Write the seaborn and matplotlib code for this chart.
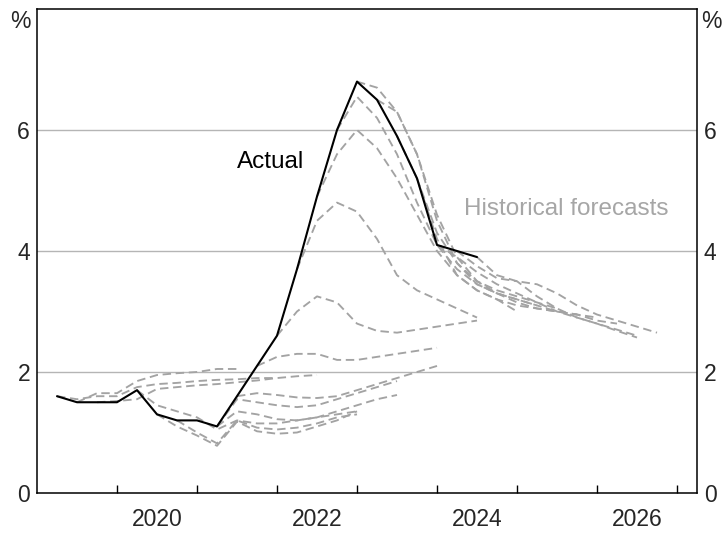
import numpy as np
import pandas as pd
import matplotlib
matplotlib.use("Agg")
import matplotlib.pyplot as plt
from matplotlib import font_manager
import seaborn as sns

# ---------------- data ----------------
actual_start = 2019.25
actual_values = [1.6, 1.5, 1.5, 1.5, 1.7, 1.3, 1.2, 1.2, 1.1, 1.6, 2.1, 2.6,
                 3.7, 4.9, 6.0, 6.8, 6.5, 5.9, 5.2, 4.1, 4.0, 3.9]

# historical forecasts: (start quarter, values)
fc_A1 = (2019.50, [1.5, 1.65, 1.65, 1.85, 1.95, 1.98, 2.0, 2.05, 2.05])
fc_A2 = (2019.25, [1.6, 1.55, 1.6, 1.6, 1.75, 1.8, 1.82, 1.85, 1.87, 1.88, 1.9, 1.9])
fc_A3 = (2019.75, [1.5, 1.52, 1.55, 1.72, 1.75, 1.78, 1.8, 1.83, 1.86, 1.9, 1.93, 1.95])
fc_B0 = (2020.25, [1.7, 1.45, 1.35, 1.25, 1.05, 1.2, 1.15, 1.15, 1.2, 1.25, 1.3, 1.35])
fc_S1 = (2020.50, [1.3, 1.1, 0.95, 0.78, 1.18, 1.02, 0.98, 1.0, 1.1, 1.2, 1.35])
fc_S2 = (2020.75, [1.2, 1.0, 0.82, 1.2, 1.08, 1.05, 1.08, 1.15, 1.25, 1.3])
fc_R = (2021.25, [1.1, 1.35, 1.3, 1.22, 1.2, 1.25, 1.35, 1.45, 1.55, 1.62])
fc_Q = (2021.25, [1.1, 1.55, 1.5, 1.45, 1.42, 1.45, 1.55, 1.65, 1.75, 1.85])
fc_P = (2021.50, [1.6, 1.65, 1.62, 1.58, 1.57, 1.6, 1.7, 1.8, 1.9, 2.0, 2.1])
fc_C1 = (2021.75, [2.1, 2.25, 2.3, 2.3, 2.2, 2.2, 2.25, 2.3, 2.35, 2.4])
fc_C2 = (2022.00, [2.6, 3.0, 3.25, 3.15, 2.8, 2.68, 2.65, 2.7, 2.75, 2.8, 2.85])
fc_C3 = (2022.25, [3.7, 4.5, 4.8, 4.65, 4.2, 3.6, 3.35, 3.2, 3.05, 2.9])
fc_C4 = (2022.50, [4.9, 5.6, 6.0, 5.7, 5.2, 4.6, 4.0, 3.6, 3.35, 3.2, 3.0])
fc_C5 = (2022.75, [6.0, 6.55, 6.2, 5.6, 4.8, 4.1, 3.7, 3.45, 3.3, 3.2, 3.1])
fc_C6 = (2023.00, [6.8, 6.7, 6.3, 5.6, 4.6, 3.9, 3.5, 3.35, 3.25, 3.15, 3.05])
fc_C7 = (2023.25, [6.5, 6.3, 5.6, 4.5, 3.8, 3.45, 3.3, 3.2, 3.1, 3.0, 2.95])
fc_D1 = (2023.50, [5.9, 5.2, 4.2, 3.6, 3.35, 3.2, 3.1, 3.05, 3.0, 2.95, 2.9])
fc_D2 = (2023.75, [5.2, 4.3, 3.8, 3.5, 3.3, 3.15, 3.05, 3.0, 2.95, 2.85, 2.8])
fc_D3 = (2024.00, [4.1, 3.9, 3.65, 3.45, 3.3, 3.15, 3.0, 2.9, 2.8, 2.7, 2.6])
fc_D4 = (2024.25, [4.0, 3.75, 3.55, 3.5, 3.25, 3.05, 2.9, 2.8, 2.68, 2.57])
fc_D5 = (2024.50, [3.9, 3.6, 3.5, 3.45, 3.3, 3.1, 2.95, 2.85, 2.75, 2.65])

forecasts = {"A1": fc_A1, "A2": fc_A2, "A3": fc_A3, "B0": fc_B0, "S1": fc_S1,
             "S2": fc_S2, "R": fc_R, "Q": fc_Q, "P": fc_P, "C1": fc_C1,
             "C2": fc_C2, "C3": fc_C3, "C4": fc_C4, "C5": fc_C5, "C6": fc_C6,
             "C7": fc_C7, "D1": fc_D1, "D2": fc_D2, "D3": fc_D3, "D4": fc_D4,
             "D5": fc_D5}

year_labels = ["2020", "2022", "2024", "2026"]
y_ticks = [0, 2, 4, 6]

# ---------------- tables ----------------
act_df = pd.DataFrame({
    "t": actual_start + 0.25 * np.arange(len(actual_values)),
    "v": actual_values,
})
rows = []
for name, (start, vals) in forecasts.items():
    for i, v in enumerate(vals):
        rows.append({"vintage": name, "t": start + 0.25 * i, "v": v})
fc_df = pd.DataFrame(rows)

# ---------------- plot ----------------
sns.set_theme(style="white")
plt.rcParams["font.family"] = ["Liberation Sans", "DejaVu Sans"]

installed = {f.name for f in font_manager.fontManager.ttflist}
narrow = "Liberation Sans Narrow" if "Liberation Sans Narrow" in installed else "Liberation Sans"
tick_font = font_manager.FontProperties(family=[narrow, "DejaVu Sans"], size=16.5)

fig = plt.figure(figsize=(7.23, 5.36), dpi=100)
ax = fig.add_axes([37 / 723, 1 - 493 / 536, 660 / 723, 484 / 536])

for g in [2, 4, 6]:
    ax.axhline(g, color="#b5b5b5", lw=1.0, zorder=0)

grey = "#a3a3a3"
sns.lineplot(data=fc_df, x="t", y="v", units="vintage", estimator=None,
             color=grey, linestyle=(0, (4.5, 2.5)), lw=1.35, ax=ax,
             legend=False, sort=False)
sns.lineplot(data=act_df, x="t", y="v", color="black", lw=1.5, ax=ax,
             legend=False, sort=False)

ax.set_xlim(2019.0, 2027.25)
ax.set_ylim(0, 8)
ax.set_xlabel("")
ax.set_ylabel("")

ax.set_xticks(np.arange(2020, 2028))
ax.set_xticklabels([])
ax.set_xticks([int(y) + 0.5 for y in year_labels], minor=True)
ax.set_xticklabels(year_labels, minor=True)
ax.tick_params(axis="x", which="major", direction="in", length=6, width=1,
               color="black", bottom=True)
ax.tick_params(axis="x", which="minor", length=0, pad=11)

ax.set_yticks(y_ticks)
ax.set_yticklabels([str(t) for t in y_ticks])
ax.tick_params(axis="y", which="both", length=0, pad=5,
               left=True, right=True, labelleft=True, labelright=True)

for lab in ax.get_xticklabels(minor=True):
    lab.set_fontproperties(tick_font)
for t in ax.yaxis.get_major_ticks():
    t.label1.set_fontproperties(tick_font)
    t.label2.set_fontproperties(tick_font)

for s in ax.spines.values():
    s.set_visible(True)
    s.set_color("black")
    s.set_linewidth(1.1)

fig.text(20 / 723, 1 - 22 / 536, "%", ha="center", va="center",
         fontproperties=tick_font)
fig.text(711 / 723, 1 - 22 / 536, "%", ha="center", va="center",
         fontproperties=tick_font)

ax.text(2021.5, 5.47, "Actual", color="black", fontsize=17.5,
        ha="left", va="center")
ax.text(2026.89, 4.7, "Historical forecasts", color="#a6a6a6", fontsize=17.5,
        ha="right", va="center")

fig.savefig("out.png", dpi=100)
